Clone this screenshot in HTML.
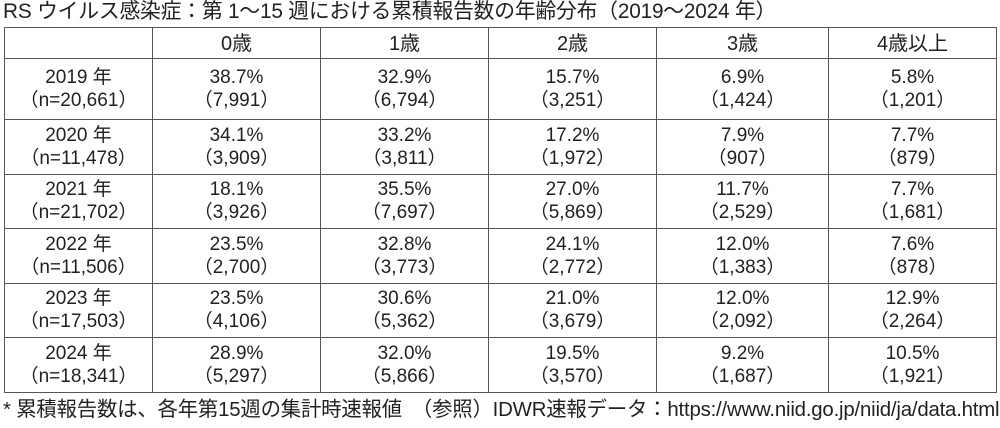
<!DOCTYPE html>
<html><head><meta charset="utf-8"><style>
body{margin:0;width:1000px;height:428px;background:#fff;position:relative;overflow:hidden;font-family:"Liberation Sans","Noto Sans CJK JP",sans-serif;color:#231f20}
.t{position:absolute;left:3px;top:-1px;font-size:20.8px;line-height:26px;white-space:nowrap;letter-spacing:-0.2px}
.f{position:absolute;left:3px;top:397px;font-size:20.4px;line-height:26px;white-space:nowrap;letter-spacing:-0.2px}
table{position:absolute;left:4px;top:27px;border-collapse:collapse;table-layout:fixed}
td{border:1px solid #555;text-align:center;font-size:19px;line-height:23px;padding:0}
tr.h td{height:31px;font-size:20px;padding-top:3px;box-sizing:border-box}
tr.r1 td{height:60px}
tr.r td{height:53.5px}
</style></head><body>
<div class="t">RS ウイルス感染症：第 1〜15 週における累積報告数の年齢分布（2019〜2024 年）</div>
<table>
<colgroup><col style="width:148px"><col style="width:168px"><col style="width:168px"><col style="width:168px"><col style="width:172px"><col style="width:168px"></colgroup>
<tr class="h"><td></td><td>0歳</td><td>1歳</td><td>2歳</td><td>3歳</td><td>4歳以上</td></tr>
<tr class="r1"><td>2019 年<br>（n=20,661）</td><td>38.7%<br>（7,991）</td><td>32.9%<br>（6,794）</td><td>15.7%<br>（3,251）</td><td>6.9%<br>（1,424）</td><td>5.8%<br>（1,201）</td></tr>
<tr class="r"><td>2020 年<br>（n=11,478）</td><td>34.1%<br>（3,909）</td><td>33.2%<br>（3,811）</td><td>17.2%<br>（1,972）</td><td>7.9%<br>（907）</td><td>7.7%<br>（879）</td></tr>
<tr class="r"><td>2021 年<br>（n=21,702）</td><td>18.1%<br>（3,926）</td><td>35.5%<br>（7,697）</td><td>27.0%<br>（5,869）</td><td>11.7%<br>（2,529）</td><td>7.7%<br>（1,681）</td></tr>
<tr class="r"><td>2022 年<br>（n=11,506）</td><td>23.5%<br>（2,700）</td><td>32.8%<br>（3,773）</td><td>24.1%<br>（2,772）</td><td>12.0%<br>（1,383）</td><td>7.6%<br>（878）</td></tr>
<tr class="r"><td>2023 年<br>（n=17,503）</td><td>23.5%<br>（4,106）</td><td>30.6%<br>（5,362）</td><td>21.0%<br>（3,679）</td><td>12.0%<br>（2,092）</td><td>12.9%<br>（2,264）</td></tr>
<tr class="r"><td>2024 年<br>（n=18,341）</td><td>28.9%<br>（5,297）</td><td>32.0%<br>（5,866）</td><td>19.5%<br>（3,570）</td><td>9.2%<br>（1,687）</td><td>10.5%<br>（1,921）</td></tr>
</table>
<div class="f">* 累積報告数は、各年第15週の集計時速報値　（参照）IDWR速報データ：https://www.niid.go.jp/niid/ja/data.html</div>
</body></html>
